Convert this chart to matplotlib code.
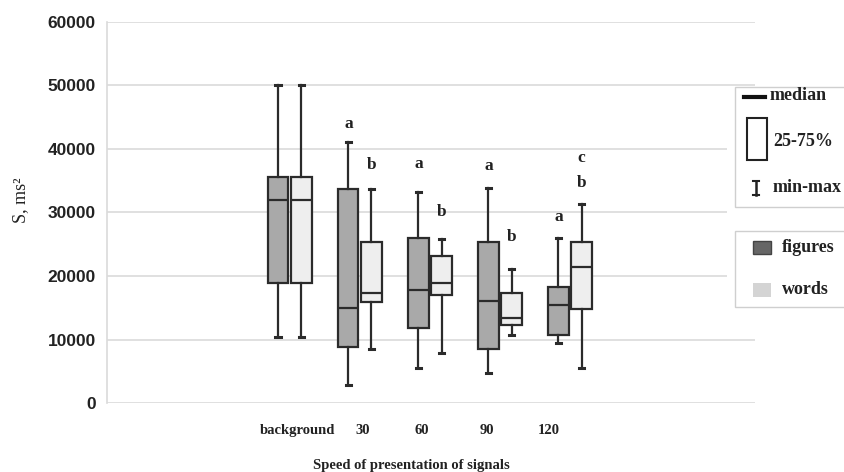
import matplotlib
matplotlib.use("Agg")
import matplotlib.pyplot as plt
from matplotlib.patches import Rectangle
from matplotlib.lines import Line2D

# Box statistics (min, q1, median, q3, max)
groups = ['background', '30', '60', '90', '120']
fig_min = [10400, 2800, 5500, 4700, 9400]
fig_q1 = [18900, 8800, 11800, 8500, 10700]
fig_med = [32000, 15000, 17800, 16100, 15400]
fig_q3 = [35600, 33700, 26000, 25400, 18300]
fig_max = [50000, 41100, 33200, 33900, 26000]

word_min = [10400, 8500, 7900, 10700, 5500]
word_q1 = [18900, 15900, 17000, 12300, 14800]
word_med = [32000, 17300, 18900, 13400, 21400]
word_q3 = [35600, 25400, 23100, 17300, 25400]
word_max = [50000, 33700, 25800, 21100, 31300]

# significance letters: (group index, series, text, y value)
letters = [(1, 'f', 'a', 44000), (1, 'w', 'b', 37500),
           (2, 'f', 'a', 37600), (2, 'w', 'b', 30000),
           (3, 'f', 'a', 37300), (3, 'w', 'b', 26100),
           (4, 'f', 'a', 29300), (4, 'w', 'c', 38600), (4, 'w', 'b', 34600)]

tick_pos = [0.11, 1.04, 1.89, 2.81, 3.69]

W, H = 845, 472


def fx(x):
    return x / W


def fy(y):
    return 1 - y / H


fig = plt.figure(figsize=(8.45, 4.72), dpi=100)
ax = fig.add_axes([fx(107), fy(403), fx(755) - fx(107), fy(22) - fy(403)])

off = 0.165
bw = 0.29
edge = '#2b2b2b'
stats = [
    (-off, fig_min, fig_q1, fig_med, fig_q3, fig_max, '#a9a9a9'),
    (off, word_min, word_q1, word_med, word_q3, word_max, '#eeeeee'),
]
for dx, mn, q1, md, q3, mx, col in stats:
    data = []
    for i in range(len(groups)):
        data.append(dict(whislo=mn[i], q1=q1[i], med=md[i], q3=q3[i],
                         whishi=mx[i], fliers=[]))
    pos = [i + dx for i in range(len(groups))]
    ax.bxp(data, positions=pos, widths=bw, patch_artist=True,
           showfliers=False, manage_ticks=False,
           boxprops=dict(facecolor=col, edgecolor=edge, linewidth=1.6),
           medianprops=dict(color=edge, linewidth=1.6),
           whiskerprops=dict(color=edge, linewidth=1.6),
           capprops=dict(color=edge, linewidth=2.2),
           capwidths=0.08)

for gi, s, t, yv in letters:
    xx = gi - off if s == 'f' else gi + off
    ax.text(xx, yv, t, ha='center', va='center', fontsize=12.5,
            family='Liberation Serif', fontweight='bold', color='#222222')

ax.set_xlim(-2.61, 6.64)
ax.set_ylim(0, 60000)
ax.set_yticks(range(0, 60001, 10000))
ax.set_yticklabels([str(v) for v in range(0, 60001, 10000)],
                   family='Liberation Sans', fontweight='bold', fontsize=12.5,
                   color='#222222')
ax.set_xticks(tick_pos)
ax.set_xticklabels(groups, family='Liberation Serif', fontweight='bold',
                   fontsize=10.5, color='#222222')
ax.tick_params(axis='both', length=0)
ax.tick_params(axis='y', pad=8)
ax.tick_params(axis='x', pad=15)
ax.grid(axis='y', color='#dadada', linewidth=1.2)
ax.set_axisbelow(True)
for sp in ['top', 'right', 'bottom']:
    ax.spines[sp].set_visible(False)
ax.spines['left'].set_color('#dadada')
ax.spines['left'].set_linewidth(1.2)

fig.text(fx(411), fy(465), 'Speed of presentation of signals', ha='center',
         va='center', family='Liberation Serif', fontsize=10.5,
         fontweight='bold', color='#222222')
fig.text(fx(21), fy(200), 'S, ms²', rotation=90, ha='center', va='center',
         family='Liberation Serif', fontsize=13, color='#222222')

# legends drawn by hand in figure pixels
lt = dict(family='Liberation Serif', fontweight='bold', fontsize=13,
          color='#222222', va='center', ha='left')
fig.patches.append(Rectangle((fx(727), fy(307)), fx(845) - fx(727),
                             fy(87) - fy(307), transform=fig.transFigure,
                             facecolor='white', edgecolor='none', zorder=2))
for y0, y1 in [(87, 207), (231, 307)]:
    fig.patches.append(Rectangle((fx(735), fy(y1)), fx(900) - fx(735),
                                 fy(y0) - fy(y1), transform=fig.transFigure,
                                 facecolor='white', edgecolor='#cfcfcf',
                                 linewidth=1, zorder=3))
fig.lines.append(Line2D([fx(744), fx(765)], [fy(97), fy(97)],
                        transform=fig.transFigure, color='#111111',
                        linewidth=3, zorder=4))
fig.text(fx(770), fy(96), 'median', zorder=4, **lt)
fig.patches.append(Rectangle((fx(747), fy(160)), fx(767) - fx(747),
                             fy(118) - fy(160), transform=fig.transFigure,
                             facecolor='white', edgecolor='#222222',
                             linewidth=1.5, zorder=4))
fig.text(fx(773), fy(141), '25-75%', zorder=4, **lt)
fig.lines.append(Line2D([fx(756), fx(756)], [fy(181), fy(195)],
                        transform=fig.transFigure, color='#222222',
                        linewidth=1.8, zorder=4))
for yy in (181, 195):
    fig.lines.append(Line2D([fx(753), fx(759)], [fy(yy), fy(yy)],
                            transform=fig.transFigure, color='#222222',
                            linewidth=1.5, zorder=4))
fig.text(fx(773), fy(188), 'min-max', zorder=4, **lt)

fig.patches.append(Rectangle((fx(753), fy(254)), fx(771) - fx(753),
                             fy(241) - fy(254), transform=fig.transFigure,
                             facecolor='#666666', edgecolor='#444444',
                             linewidth=1, zorder=4))
fig.text(fx(782), fy(247), 'figures', zorder=4, **lt)
fig.patches.append(Rectangle((fx(753), fy(297)), fx(771) - fx(753),
                             fy(283) - fy(297), transform=fig.transFigure,
                             facecolor='#d4d4d4', edgecolor='none', zorder=4))
fig.text(fx(782), fy(290), 'words', zorder=4, **lt)

fig.savefig('out.png', dpi=100)
